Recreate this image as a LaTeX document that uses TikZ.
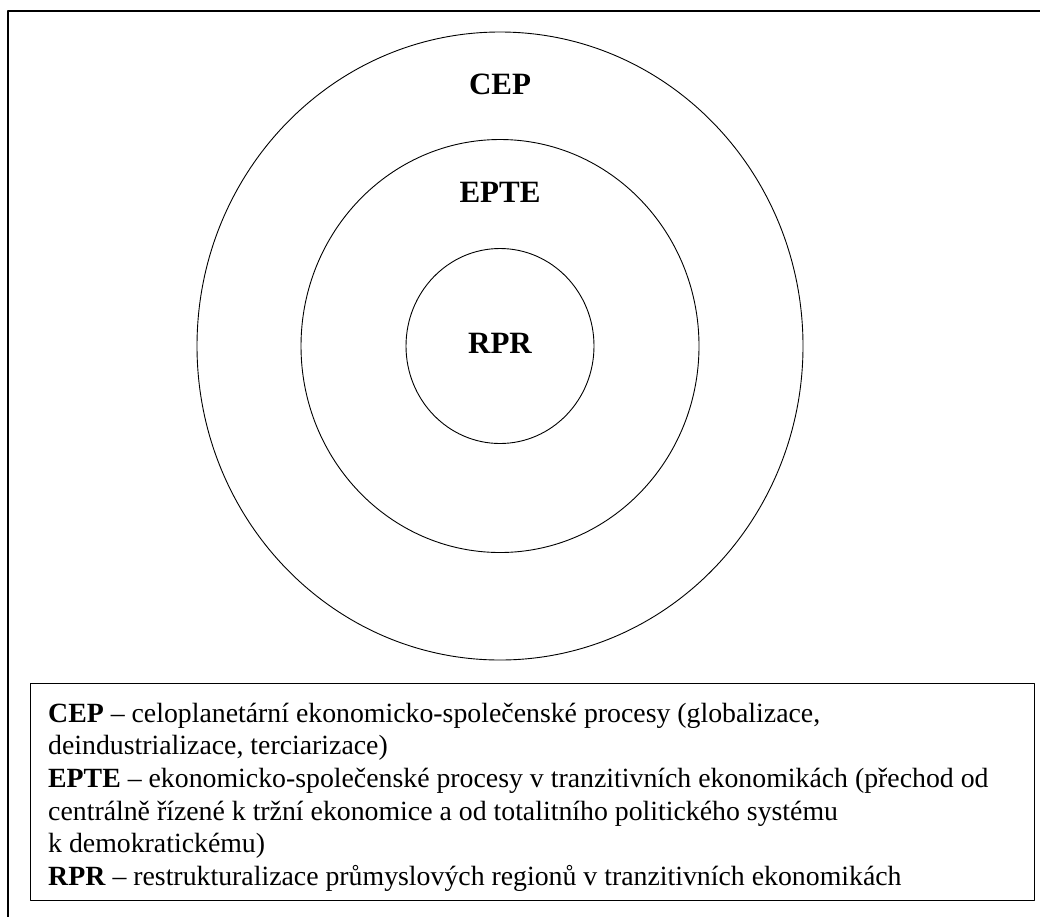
\documentclass[tikz,border=0pt]{standalone}
\usepackage{fontspec}
\setmainfont{Liberation Serif}
\begin{document}
\begin{tikzpicture}[x=1pt, y=-1pt, line join=round, line cap=round,
	ring/.style={line width=0.9pt},
	ringlabel/.style={inner sep=0pt, font=\fontsize{31}{36}\selectfont\bfseries},
	legendtext/.style={inner sep=0pt, align=left, font=\fontsize{27.8}{32.6}\selectfont}]

	\useasboundingbox (0,0) rectangle (1040,916);
	\clip (0,0) rectangle (1040,916);
	% outer frame, cut by the page at the right and bottom
	\draw[line width=1.2pt] (8,11) rectangle (1060,940);

	\coordinate (S) at (500,346);
	\draw[ring] (S) ellipse [x radius=303, y radius=314];
	\draw[ring] (S) ellipse [x radius=199, y radius=206.5];
	\draw[ring] (S) ellipse [x radius=94, y radius=97.5];

	\node[ringlabel] (cep) at (500,84) {CEP};
	\node[ringlabel] (epte) at (500,192) {EPTE};
	\node[ringlabel] (rpr) at (500,343) {RPR};

	% legend
	\coordinate (L1) at (30,683);
	\coordinate (L2) at (1034,900);
	\draw[line width=0.9pt] (L1) rectangle (L2);
	\node[legendtext, anchor=north west] (legend) at (48,702.8)
		{\textbf{CEP} – celoplanetární ekonomicko-společenské procesy (globalizace,\\
		deindustrializace, terciarizace)\\
		\textbf{EPTE} – ekonomicko-společenské procesy v tranzitivních ekonomikách (přechod od\\
		centrálně řízené k tržní ekonomice a od totalitního politického systému\\
		k demokratickému)\\
		\textbf{RPR} – restrukturalizace průmyslových regionů v tranzitivních ekonomikách};
\end{tikzpicture}
\end{document}
